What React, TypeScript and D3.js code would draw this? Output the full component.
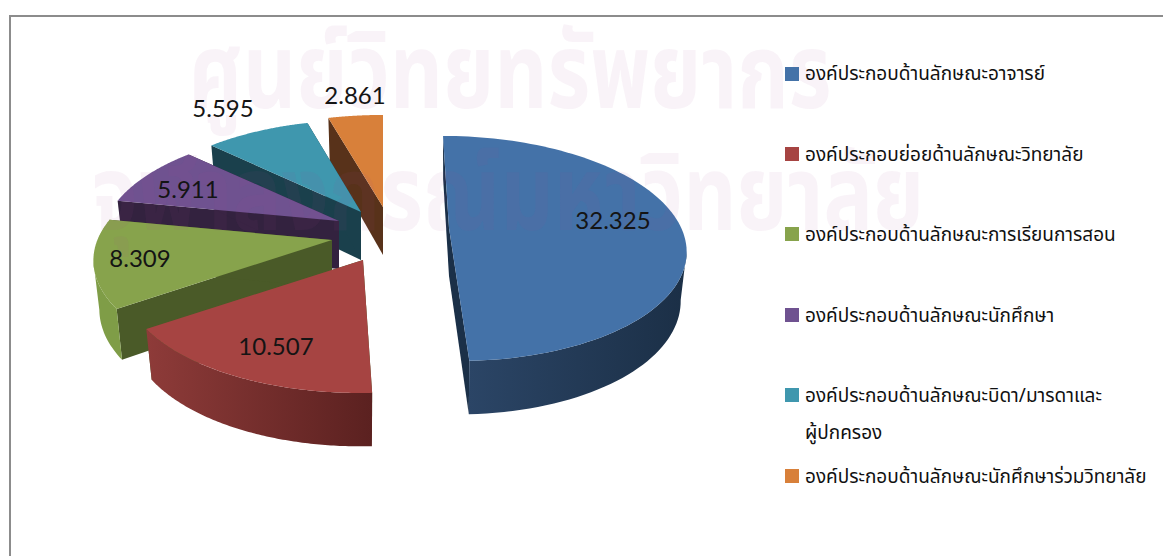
import React from 'react';
import * as d3 from 'd3';

const categories = [
  'องค์ประกอบด้านลักษณะอาจารย์',
  'องค์ประกอบย่อยด้านลักษณะวิทยาลัย',
  'องค์ประกอบด้านลักษณะการเรียนการสอน',
  'องค์ประกอบด้านลักษณะนักศึกษา',
  'องค์ประกอบด้านลักษณะบิดา/มารดาและ',
  'องค์ประกอบด้านลักษณะนักศึกษาร่วมวิทยาลัย',
];
const values = [32.325, 10.507, 8.309, 5.911, 5.595, 2.861];
const valueLabels = ['32.325', '10.507', '8.309', '5.911', '5.595', '2.861'];
const topColors = ['#4472a8', '#a64442', '#87a34c', '#6f5290', '#3f97ae', '#d8803a'];
const wallColors = ['#1b3048', '#4a5a28', '#4a5a28', '#33223f', '#1a404c', '#58321a'];
const rimColors: [string, string][] = [
  ['#2b4566', '#1b2f46'],
  ['#8e3b39', '#5b2120'],
  ['#7f9d47', '#7f9d47'],
  ['#6a4e8a', '#6a4e8a'],
  ['#3a8ba0', '#3a8ba0'],
  ['#c97636', '#c97636'],
];
// layout: apex of each exploded slice, lean and width of each slice, label centres, legend rows
const apexX = [449, 363, 332, 339, 361, 383];
const apexY = [228, 260, 240, 221, 212, 207];
const lean = [0.065, -0.02, 0, 0, 0, 0];
const widthScale = [0.98, 0.99, 0.99, 0.985, 0.98, 1];
const labelX = [613, 276, 140, 188, 223, 355];
const labelY = [221, 347, 259, 190, 109, 96];
const legendY = [74, 154, 234, 315, 395, 476];

const RX = 237, RY = 108.8, K = 0.182, DEPTH = 48, W = 1163, H = 556;

const proj = (a: number) => {
  const u = Math.sin(a), v = -Math.cos(a), d = 1 - K * v;
  return { x: (RX * u) / d, y: (RY * v) / d, v };
};

const pieGen = d3.pie<number>().sort(null).startAngle(0).endAngle(2 * Math.PI);
const arcs = pieGen(values);

function slicePaths(i: number) {
  const a = arcs[i];
  const ax = apexX[i], ay = apexY[i], s = lean[i], w = widthScale[i];
  const top = (t: number): [number, number] => {
    const p = proj(t);
    return [ax + p.x * w + s * p.y, ay + p.y];
  };
  const bot = (t: number): [number, number] => {
    const p = proj(t);
    const dep = DEPTH / (1 - 0.1 * p.v);
    return [ax + (p.x * w + s * p.y) * 0.975, ay + p.y + dep];
  };
  const n = 96;
  const ts = d3.range(n + 1).map((j) => a.startAngle + ((a.endAngle - a.startAngle) * j) / n);
  const line = d3.line();
  const topPts = ts.map(top);
  const apexTop: [number, number] = [ax, ay];
  const apexBot: [number, number] = [ax, ay + DEPTH];
  // only the part of the outer wall that faces the viewer is drawn
  const front = ts.filter((t) => proj(t).v >= K);
  return {
    top: line([apexTop, ...topPts])! + 'Z',
    rim: front.length > 1 ? line([...front.map(top), ...front.map(bot).reverse()])! + 'Z' : null,
    wallStart: line([apexTop, topPts[0], bot(ts[0]), apexBot])! + 'Z',
    wallEnd: line([apexTop, topPts[n], bot(ts[n]), apexBot])! + 'Z',
  };
}

const drawOrder = [5, 4, 3, 2, 1, 0];
const thai = "Tahoma, 'Noto Sans Thai', 'Noto Sans', 'Liberation Sans', 'DejaVu Sans', sans-serif";

export default function App() {
  return (
    <svg
      width={W}
      height={H}
      viewBox={`0 0 ${W} ${H}`}
      style={{ position: 'absolute', left: 0, top: 0, display: 'block', background: '#fff' }}
    >
      <defs>
        {rimColors.map((c, i) => (
          <linearGradient key={i} id={`rim${i}`} x1="0" x2="1" y1="0" y2="0">
            <stop offset="0" stopColor={c[0]} />
            <stop offset="1" stopColor={c[1]} />
          </linearGradient>
        ))}
      </defs>
      <path d={`M${W},16H10V${H}`} fill="none" stroke="#8c8c8c" strokeWidth={2} />
      {drawOrder.map((i) => {
        const p = slicePaths(i);
        return (
          <g key={i}>
            <path d={p.wallStart} fill={wallColors[i]} />
            <path d={p.wallEnd} fill={wallColors[i]} />
            {p.rim && <path d={p.rim} fill={`url(#rim${i})`} />}
            <path d={p.top} fill={topColors[i]} />
          </g>
        );
      })}
      <g fontFamily={thai} fontSize={82.5} fontWeight={700} fill="#a04a9a" fillOpacity={0.065} textAnchor="middle">
        <text transform="translate(510,108) scale(1,1.27)">ศูนย์วิทยทรัพยากร</text>
        <text transform="translate(508,230) scale(1,1.27)">จุฬาลงกรณ์มหาวิทยาลัย</text>
      </g>
      {valueLabels.map((t, i) => (
        <text
          key={i}
          x={labelX[i]}
          y={labelY[i]}
          dy="0.35em"
          textAnchor="middle"
          fontFamily="Lato, 'Open Sans', sans-serif"
          fontSize={24}
          fill="#141414"
        >
          {t}
        </text>
      ))}
      {categories.map((c, i) => (
        <g key={i}>
          <rect x={785} y={legendY[i] - 7} width={14} height={14} fill={topColors[i]} />
          <text x={805} y={i === 0 ? 73 : legendY[i]} dy="0.35em" fontFamily={thai} fontSize={19} fill="#111">
            {c}
          </text>
        </g>
      ))}
      <text x={805} y={432} dy="0.35em" fontFamily={thai} fontSize={19} fill="#111">ผู้ปกครอง</text>
    </svg>
  );
}
